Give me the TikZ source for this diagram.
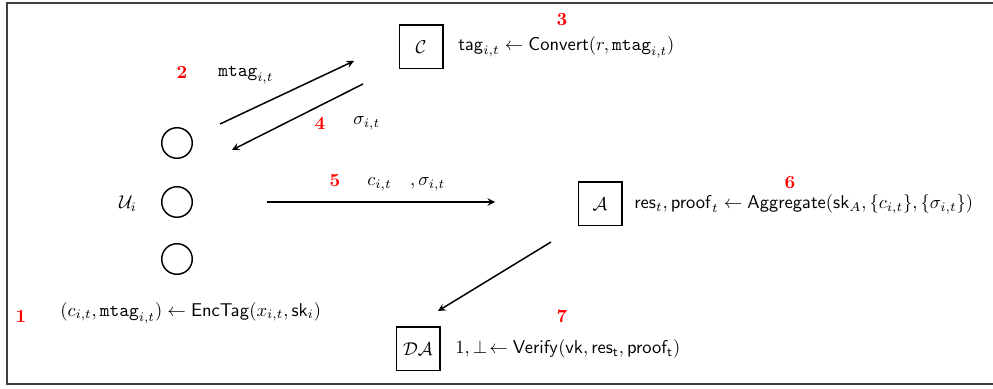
\documentclass[tikz,border=0pt]{standalone}
\usepackage{amsmath,amssymb}
\tikzset{
	party/.style={draw, thick, minimum width=23.5pt, minimum height=23.5pt, inner sep=0pt},
	user/.style={circle, draw, thick, minimum size=16.5pt, inner sep=0pt},
	stepno/.style={text=red, font=\bfseries},
	algo/.style={anchor=west, inner sep=0pt},
}
\begin{document}
\begin{tikzpicture}[>=stealth, x=0.54pt, y=-0.54pt]
	\clip (0,0) rectangle (993,389);
	\draw[line width=1pt, black!75] (7,3) rectangle (1010,384);
	% users
	\node[user] (u1) at (177,143) {};
	\node[user] (u2) at (177,202) {};
	\node[user] (u3) at (177,259) {};
	\node (ulab) at (128,204) {$\mathcal{U}_i$};
	% parties
	\node[party] (conv) at (421,47) {$\mathcal{C}$};
	\node[party] (aggr) at (600,204) {$\mathcal{A}$};
	\node[party] (da) at (418,349) {$\mathcal{DA}$};
	% algorithms
	\node[algo] (enc) at (60,313) {$(c_{i,t},\mathtt{mtag}_{i,t}) \leftarrow \mathsf{EncTag}(x_{i,t},\mathsf{sk}_i)$};
	\node[algo] (tag) at (458,47) {$\mathsf{tag}_{i,t} \leftarrow \mathsf{Convert}(r,\mathtt{mtag}_{i,t})$};
	\node[algo] (res) at (634,204) {$\mathsf{res}_t,\mathsf{proof}_t \leftarrow \mathsf{Aggregate}(\mathsf{sk}_A,\{c_{i,t}\},\{\sigma_{i,t}\})$};
	\node[algo] (ver) at (455,349) {$1,\bot\!\leftarrow \mathsf{Verify}(\mathsf{vk},\mathsf{res_t},\mathsf{proof_t})$};
	% steps
	\node[stepno] (n1) at (21,316) {1};
	\node[stepno] (n2) at (182,72) {2};
	\node[stepno] (n3) at (562,20) {3};
	\node[stepno] (n4) at (320,123) {4};
	\node[stepno] (n5) at (335,181) {5};
	\node[stepno] (n6) at (790,183) {6};
	\node[stepno] (n7) at (562,316) {7};
	% messages
	\node[algo] (mtag) at (218,75) {$\mathtt{mtag}_{i,t}$};
	\node[algo] (sig) at (353,123) {$\sigma_{i,t}$};
	\node[algo] (cs) at (367,184) {$c_{i,t}\quad,\sigma_{i,t}$};
	\coordinate (m0) at (220,124); \coordinate (m1) at (354,61);
	\coordinate (s0) at (363,84); \coordinate (s1) at (232,150);
	\coordinate (c0) at (267,202); \coordinate (c1) at (495,202);
	\coordinate (r0) at (551,242); \coordinate (r1) at (438,311);
	\draw[->, thick] (m0) -- (m1);
	\draw[->, thick] (s0) -- (s1);
	\draw[->, thick] (c0) -- (c1);
	\draw[->, thick] (r0) -- (r1);
\end{tikzpicture}
\end{document}
